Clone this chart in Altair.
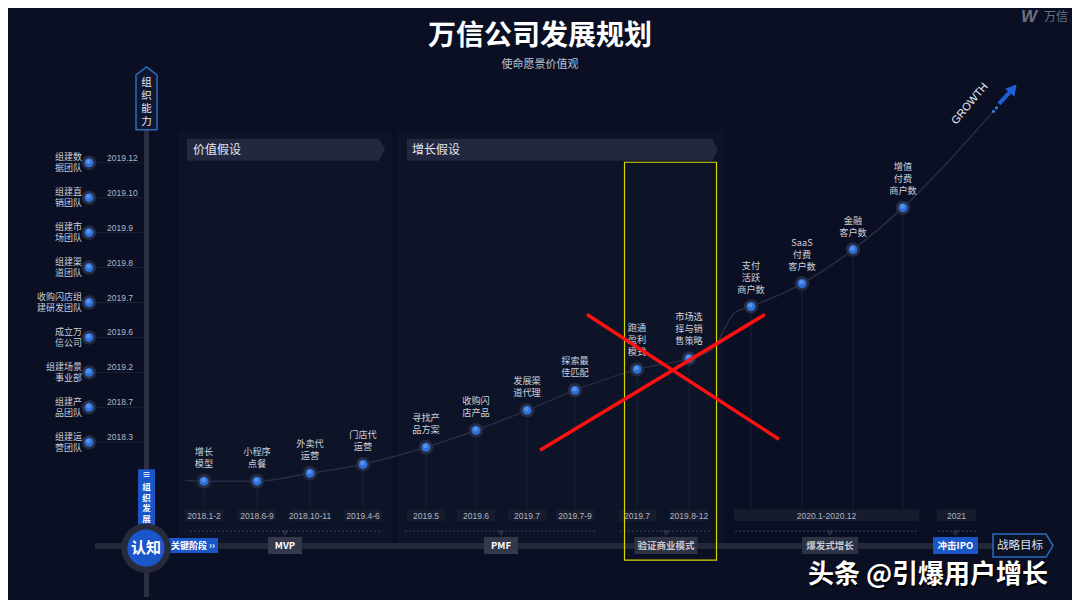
import altair as alt
import pandas as pd

BG = "#0a0f23"
CJK = "Noto Sans CJK SC"

# ---------------- data ----------------
title = "万信公司发展规划"
subtitle = "使命愿景价值观"

org_labels = ["组建数\n据团队", "组建直\n销团队", "组建市\n场团队", "组建渠\n道团队",
              "收购闪店组\n建研发团队", "成立万\n信公司", "组建场景\n事业部", "组建产\n品团队",
              "组建运\n营团队"]
org_dates = ["2019.12", "2019.10", "2019.9", "2019.8", "2019.7", "2019.6", "2019.2",
             "2018.7", "2018.3"]

milestone_labels = ["增长\n模型", "小程序\n点餐", "外卖代\n运营", "门店代\n运营",
                    "寻找产\n品方案", "收购闪\n店产品", "发展渠\n道代理", "探索最\n佳匹配",
                    "跑通\n盈利\n模式", "市场选\n择与销\n售策略",
                    "支付\n活跃\n商户数", "SaaS\n付费\n客户数", "金融\n客户数", "增值\n付费\n商户数"]
milestone_growth = [482, 482, 474, 465, 448, 431, 411, 391, 370, 359, 307, 284, 250, 208]
milestone_slot = [204, 257, 310, 363, 426, 476, 527, 575, 637, 689, 751, 802, 853, 903]

date_labels = ["2018.1-2", "2018.6-9", "2018.10-11", "2019.4-6", "2019.5", "2019.6",
               "2019.7", "2019.7-9", "2019.7", "2019.8-12", "2020.1-2020.12", "2021"]

stage_labels = ["MVP", "PMF", "验证商业模式", "爆发式增长", "冲击IPO"]

panel_titles = ["价值假设", "增长假设"]

# ---------------- layout ----------------
xs = alt.Scale(domain=[8, 1072], nice=False, zero=False)
ys = alt.Scale(domain=[8, 600], nice=False, zero=False, reverse=True)


def X(f):
    return alt.X(f, type="quantitative", scale=xs, axis=None)


def Y(f):
    return alt.Y(f, type="quantitative", scale=ys, axis=None)


layers = []

# panels
rect_rows = [
    dict(x0=178, x1=392, y0=131, y1=545, fill="#0e1428"),
    dict(x0=398, x1=723, y0=131, y1=545, fill="#0e1428"),
]
# date boxes
date_x = milestone_slot[:10]
for lab, cx in zip(date_labels[:10], date_x):
    rect_rows.append(dict(x0=cx - 19, x1=cx + 19, y0=510, y1=522, fill="#161b2d"))
rect_rows.append(dict(x0=734, x1=919, y0=510, y1=522, fill="#161b2d"))
rect_rows.append(dict(x0=937, x1=976, y0=510, y1=522, fill="#161b2d"))
rect_df = pd.DataFrame(rect_rows)
layers.append(alt.Chart(rect_df).mark_rect().encode(
    x=X("x0"), x2="x1", y=Y("y0"), y2="y1", color=alt.Color("fill:N", scale=None)))


def arrow_right(w, h, t):
    s = w / 2.0
    a = h / 2.0 / s
    b = 1 - t / s
    return f"M-1,{-a:.4f}L{b:.4f},{-a:.4f}L1,0L{b:.4f},{a:.4f}L-1,{a:.4f}Z", w * w


def arrow_up(w, h, t):
    s = h / 2.0
    a = w / 2.0 / s
    b = -1 + t / s
    return f"M0,-1L{a:.4f},{b:.4f}L{a:.4f},1L{-a:.4f},1L{-a:.4f},{b:.4f}Z", h * h


shape_rows = []
p, sz = arrow_right(198, 22, 6)
shape_rows.append(dict(x=286, y=150, path=p, size=sz, fill="#22283f", stroke="#22283f", sw=0))
p, sz = arrow_right(311, 22, 6)
shape_rows.append(dict(x=562.5, y=150, path=p, size=sz, fill="#22283f", stroke="#22283f", sw=0))
p, sz = arrow_up(21, 63, 8)
shape_rows.append(dict(x=146.5, y=98.5, path=p, size=sz, fill="#0e1630", stroke="#2d6cbc", sw=1.5))
p, sz = arrow_right(60, 23, 7)
shape_rows.append(dict(x=1023, y=546.5, path=p, size=sz, fill="#0c1226", stroke="#2d6cbc", sw=1.5))
shape_df = pd.DataFrame(shape_rows)

# axis bars
bar_h = pd.DataFrame([dict(x0=95, x1=993, y0=547, y1=547)])
layers.append(alt.Chart(bar_h).mark_rule(strokeWidth=6, color="#23273a").encode(
    x=X("x0"), x2="x1", y=Y("y0")))
bar_v = pd.DataFrame([dict(x0=146.5, y0=128, y1=598)])
layers.append(alt.Chart(bar_v).mark_rule(strokeWidth=5, color="#2a2e3e").encode(
    x=X("x0"), y=Y("y0"), y2="y1"))

layers.append(alt.Chart(shape_df).mark_point(filled=True, opacity=1).encode(
    x=X("x"), y=Y("y"),
    shape=alt.Shape("path:N", scale=None),
    size=alt.Size("size:Q", scale=None),
    fill=alt.Fill("fill:N", scale=None),
    stroke=alt.Stroke("stroke:N", scale=None),
    strokeWidth=alt.StrokeWidth("sw:Q", scale=None)))

# org lines
org_y = [163, 198, 233, 268, 303, 338, 373, 408, 443]
org_df = pd.DataFrame(dict(label=org_labels, date=org_dates, y=org_y))
org_df["x0"] = 89
org_df["x1"] = 143
layers.append(alt.Chart(org_df).mark_rule(strokeWidth=1, color="#1d2336").encode(
    x=X("x0"), x2="x1", y=Y("y")))

# stems from milestone dots
ms_df = pd.DataFrame(dict(label=milestone_labels, g=milestone_growth, x=milestone_slot))
ms_df["yb"] = 510
layers.append(alt.Chart(ms_df).mark_rule(strokeWidth=1, color="#1b2134").encode(
    x=X("x"), y=Y("g"), y2="yb"))

# growth curve
curve_x = [185] + milestone_slot[:10] + [712, 735] + milestone_slot[10:] + [950, 993]
curve_y = [481] + milestone_growth[:10] + [350, 313] + milestone_growth[10:] + [160, 112]
curve_df = pd.DataFrame(dict(x=curve_x, y=curve_y))
layers.append(alt.Chart(curve_df).mark_line(strokeWidth=1.5, color="#262c42",
                                            interpolate="monotone").encode(
    x=X("x"), y=Y("y"), order="x:Q"))

# dashed brackets
stage_cx = [285, 501, 666, 830, 955.5]
stage_w = [34, 34, 63, 56, 45]
br = pd.DataFrame(dict(x0=[190, 405, 620, 735, 938], x1=[382, 597, 712, 918, 976]))
br["y"] = 532
layers.append(alt.Chart(br).mark_rule(strokeWidth=1, color="#3a4259", strokeDash=[2, 2]).encode(
    x=X("x0"), x2="x1", y=Y("y")))
notch = pd.DataFrame(dict(x=[c for c in stage_cx], y=[534] * 5))
layers.append(alt.Chart(notch).mark_point(shape="triangle-down", filled=False, size=20,
                                          color="#3a4259", opacity=1, strokeWidth=1).encode(
    x=X("x"), y=Y("y")))

# stage boxes
st_df = pd.DataFrame(dict(label=stage_labels, cx=stage_cx, w=stage_w))
st_df["x0"] = st_df.cx - st_df.w / 2
st_df["x1"] = st_df.cx + st_df.w / 2
st_df["y0"] = 538
st_df["y1"] = 555
st_df["fill"] = ["#33384b", "#33384b", "#2e3344", "#2e3344", "#1a56c8"]
st_df["tc"] = ["#ffffff", "#ffffff", "#c4c8d4", "#c4c8d4", "#ffffff"]
layers.append(alt.Chart(st_df).mark_rect().encode(
    x=X("x0"), x2="x1", y=Y("y0"), y2="y1", color=alt.Color("fill:N", scale=None)))
st_df["yc"] = 546.5
layers.append(alt.Chart(st_df).mark_text(font=CJK, fontSize=9.5, fontWeight="bold").encode(
    x=X("cx"), y=Y("yc"), text="label:N", color=alt.Color("tc:N", scale=None)))

# 组织发展 tag, 认知 circle, 关键阶段 tag
tag_df = pd.DataFrame([
    dict(x0=138, x1=155, y0=470, y1=530, fill="#1a56c8"),
    dict(x0=160, x1=218, y0=539, y1=554, fill="#1a56c8"),
])
layers.append(alt.Chart(tag_df).mark_rect().encode(
    x=X("x0"), x2="x1", y=Y("y0"), y2="y1", color=alt.Color("fill:N", scale=None)))
circ = pd.DataFrame(dict(x=[146, 146], y=[549, 549], s=[3.1416 * 28 * 28, 3.1416 * 21 * 21],
                         c=["#262a3a", "#1a56c8"]))
layers.append(alt.Chart(circ).mark_circle(opacity=1).encode(
    x=X("x"), y=Y("y"), size=alt.Size("s:Q", scale=None), color=alt.Color("c:N", scale=None)))
layers.append(alt.Chart(pd.DataFrame([dict(x=146, y=549, t="认知")])).mark_text(
    font=CJK, fontSize=15, fontWeight="bold", color="#ffffff").encode(
    x=X("x"), y=Y("y"), text="t:N"))
layers.append(alt.Chart(pd.DataFrame([dict(x=171, y=547, t="关键阶段 ››")])).mark_text(
    font=CJK, fontSize=9, fontWeight="bold", color="#ffffff", align="left").encode(
    x=X("x"), y=Y("y"), text="t:N"))
tag_chars = pd.DataFrame(dict(x=[146.5] * 5, y=[476, 488, 498.5, 509, 519.5],
                              t=["≡", "组", "织", "发", "展"]))
layers.append(alt.Chart(tag_chars).mark_text(
    font=CJK, fontSize=8.5, fontWeight="bold", color="#ffffff").encode(
    x=X("x"), y=Y("y"), text="t:N"))

# 组织能力 vertical label
v_chars = pd.DataFrame(dict(x=[146.5] * 4, y=[83, 96, 109, 122], t=list("组织能力")))
layers.append(alt.Chart(v_chars).mark_text(font=CJK, fontSize=10.5, color="#e6e9f0").encode(
    x=X("x"), y=Y("y"), text="t:N"))

# 战略目标
layers.append(alt.Chart(pd.DataFrame([dict(x=1020, y=546.5, t="战略目标")])).mark_text(
    font=CJK, fontSize=11.5, color="#dfe3ec").encode(x=X("x"), y=Y("y"), text="t:N"))

# panel header texts
ph = pd.DataFrame(dict(x=[193, 412], y=[150, 150], t=panel_titles))
layers.append(alt.Chart(ph).mark_text(font=CJK, fontSize=12, color="#e4e7ef", align="left").encode(
    x=X("x"), y=Y("y"), text="t:N"))

# dots (org + milestones)
dots = pd.DataFrame(dict(x=[89] * 9 + milestone_slot, y=org_y + milestone_growth))
layers.append(alt.Chart(dots).mark_circle(opacity=1, size=210, color="#262c42").encode(
    x=X("x"), y=Y("y")))
layers.append(alt.Chart(dots).mark_circle(opacity=1, size=80, color="#2f6fd8").encode(
    x=X("x"), y=Y("y")))
hl = dots.copy()
hl["y"] = hl["y"] - 1.2
hl["x"] = hl["x"] - 0.5
layers.append(alt.Chart(hl).mark_circle(opacity=0.8, size=22, color="#5f9cf0").encode(
    x=X("x"), y=Y("y")))

# org texts, one row per line
org_rows = []
for lab, y in zip(org_labels, org_y):
    parts = lab.split("\n")
    n = len(parts)
    for i, part in enumerate(parts):
        org_rows.append(dict(t=part, y=y + (i - (n - 1) / 2) * 11))
layers.append(alt.Chart(pd.DataFrame(org_rows)).mark_text(
    font=CJK, fontSize=9, color="#c9cdd8", align="right").encode(
    x=alt.value(82 - 8), y=Y("y"), text="t:N"))
org_df["dy"] = org_df["y"] - 5
layers.append(alt.Chart(org_df).mark_text(font="Liberation Sans", fontSize=8.5, color="#b4b8c4",
                                          align="left").encode(
    x=alt.value(107 - 8), y=Y("dy"), text="date:N"))

# milestone labels, one row per line
ml_rows = []
for lab, g, x in zip(milestone_labels, milestone_growth, milestone_slot):
    parts = lab.split("\n")
    n = len(parts)
    for i, part in enumerate(parts):
        ml_rows.append(dict(t=part, x=x, y=g - 17 - (n - 1 - i) * 12))
layers.append(alt.Chart(pd.DataFrame(ml_rows)).mark_text(
    font=CJK, fontSize=9.2, color="#cdd1db").encode(
    x=X("x"), y=Y("y"), text="t:N"))

# date texts
dt_x = date_x + [826.5, 956.5]
dt_df = pd.DataFrame(dict(t=date_labels, x=dt_x))
dt_df["y"] = 516.5
layers.append(alt.Chart(dt_df).mark_text(font="Liberation Sans", fontSize=8.5, color="#b0b5c2").encode(
    x=X("x"), y=Y("y"), text="t:N"))

# GROWTH arrow
layers.append(alt.Chart(pd.DataFrame([dict(x=970, y=104, t="GROWTH")])).mark_text(
    font="Liberation Sans", fontSize=11, color="#e8ebf2", angle=310).encode(
    x=X("x"), y=Y("y"), text="t:N"))
arr = pd.DataFrame([dict(x0=999, y0=104, x1=1010, y1=92)])
layers.append(alt.Chart(arr).mark_rule(strokeWidth=4, color="#1f5fd6").encode(
    x=X("x0"), x2="x1", y=Y("y0"), y2="y1"))
arr_dots = pd.DataFrame(dict(x=[993.5, 996.5], y=[111.5, 108]))
layers.append(alt.Chart(arr_dots).mark_circle(opacity=1, size=10, color="#3a7be8").encode(
    x=X("x"), y=Y("y")))
layers.append(alt.Chart(pd.DataFrame([dict(x=1012, y=90)])).mark_point(
    shape="triangle", filled=True, opacity=1, size=150, color="#1f5fd6", angle=40).encode(
    x=X("x"), y=Y("y")))

# yellow box
yb = pd.DataFrame([dict(x0=624.5, x1=716.5, y0=162.5, y1=561)])
layers.append(alt.Chart(yb).mark_rect(fill=None, stroke="#d8d800", strokeWidth=1.2, fillOpacity=0).encode(
    x=X("x0"), x2="x1", y=Y("y0"), y2="y1"))

# red cross
rx = pd.DataFrame([dict(x0=587, y0=315, x1=779, y1=440), dict(x0=540, y0=451, x1=765, y1=315)])
layers.append(alt.Chart(rx).mark_rule(strokeWidth=3.5, color="#ff1010").encode(
    x=X("x0"), x2="x1", y=Y("y0"), y2="y1"))

# title and subtitle
layers.append(alt.Chart(pd.DataFrame([dict(x=540, y=37, t=title)])).mark_text(
    font=CJK, fontSize=28, fontWeight="bold", color="#ffffff").encode(
    x=X("x"), y=Y("y"), text="t:N"))
layers.append(alt.Chart(pd.DataFrame([dict(x=540, y=65, t=subtitle)])).mark_text(
    font=CJK, fontSize=11, color="#bcc3d2").encode(x=X("x"), y=Y("y"), text="t:N"))

# logo
layers.append(alt.Chart(pd.DataFrame([dict(x=1029, y=17, t="W")])).mark_text(
    font="Liberation Sans", fontSize=17, fontWeight="bold", fontStyle="italic", color="#6c7282").encode(
    x=X("x"), y=Y("y"), text="t:N"))
layers.append(alt.Chart(pd.DataFrame([dict(x=1056, y=17, t="万信")])).mark_text(
    font=CJK, fontSize=12, color="#6c7282").encode(x=X("x"), y=Y("y"), text="t:N"))

# watermark
wm = "头条 @引爆用户增长"
for dx, dy, col in [(1.5, 1.5, "#000000"), (0, 0, "#ffffff")]:
    layers.append(alt.Chart(pd.DataFrame([dict(x=808 + dx, y=576 + dy, t=wm)])).mark_text(
        font=CJK, fontSize=26, fontWeight="bold", color=col, align="left").encode(
        x=X("x"), y=Y("y"), text="t:N"))

chart = alt.layer(*layers).properties(
    width=1064, height=592, padding=0, background=BG,
    autosize=alt.AutoSizeParams(type="fit", contains="padding"),
).configure_view(stroke=None)

chart.save("out.html", embed_options={"renderer": "svg", "actions": False})
